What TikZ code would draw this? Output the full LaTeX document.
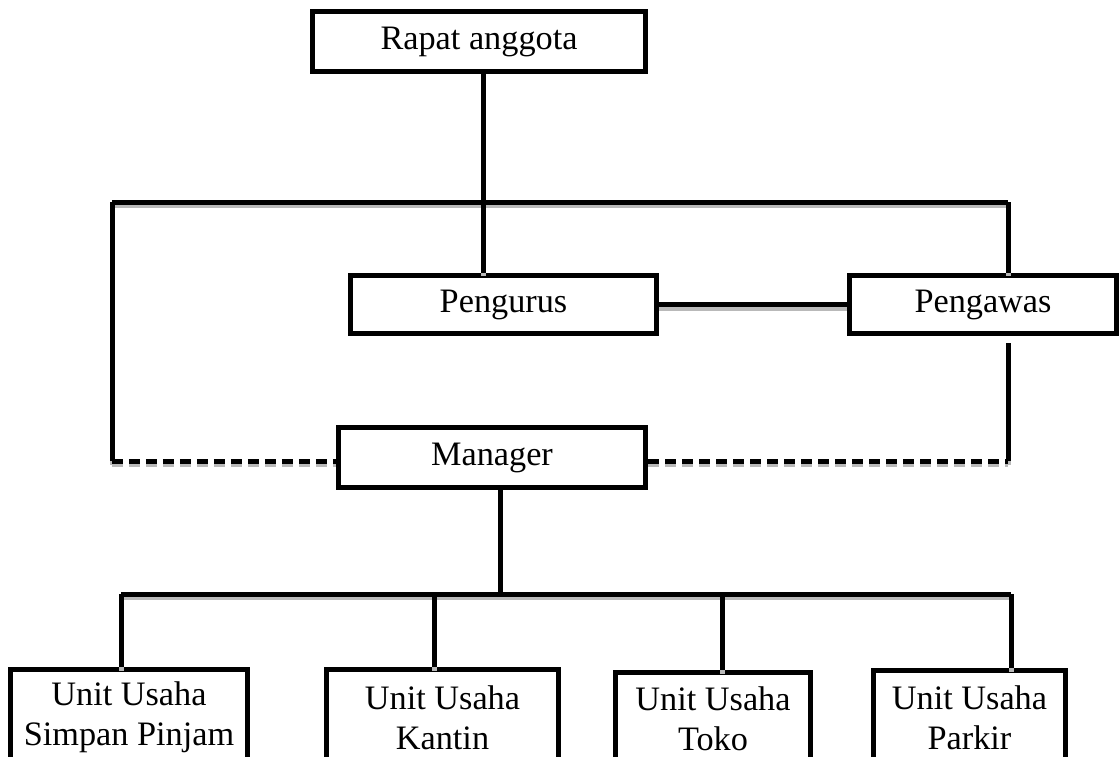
\documentclass[tikz,border=0pt]{standalone}
\usepackage{fontspec}
\setmainfont{Liberation Serif}
\usetikzlibrary{positioning, calc}

% all connectors, drawn twice (shadow, then line)
\newcommand{\orglinks}{%
  \draw[conn] (tl) -- (tr);
  \draw[conn] (rapat.south -| tm) -- (pengurus.north -| tm);
  \draw[conn] (tr) -- (pengawas.north -| tr);
  \draw[conn] (pengurus) -- (pengawas);
  \draw[conn] (tl) -- (dl);
  \draw[conn] (gap) -- (dr);
  \draw[dashconn] (dl) -- (manager.west |- dl);
  \draw[dashconn] (manager.east |- dr) -- (dr);
  \draw[conn] (manager.south -| bm) -- (bm);
  \draw[conn] (b1) -- (b4);
  \draw[conn] (b1) -- (simpan.north -| b1);
  \draw[conn] (b2) -- (kantin.north -| b2);
  \draw[conn] (b3) -- (toko.north -| b3);
  \draw[conn] (b4) -- (parkir.north -| b4);
}

\begin{document}
\begin{tikzpicture}[
  x=0.02cm, y=-0.02cm,
  box/.style={draw, line width=0.1cm, fill=white, inner sep=0pt,
              font=\fontsize{19.5}{22.7}\selectfont, align=center},
  conn/.style={line width=0.1cm},
  dashconn/.style={conn, dash pattern=on 0.22cm off 0.12cm}
]
  \useasboundingbox (0,0) rectangle (1119,757);
  \clip (0,0) rectangle (1119,757);

  % Top
  \node[box, minimum width=6.68cm, minimum height=1.22cm] (rapat) at (479,41.5) {Rapat anggota};

  % Pengurus and Pengawas
  \node[box, minimum width=6.14cm, minimum height=1.18cm] (pengurus) at (503.5,304.5) {Pengurus};
  \node[box, minimum width=5.36cm, minimum height=1.18cm] (pengawas) at (983,304.5) {Pengawas};

  % Manager
  \node[box, minimum width=6.16cm, minimum height=1.22cm] (manager) at (492,457.5) {Manager};

  % Unit usaha
  \node[box, anchor=north, minimum width=4.76cm, minimum height=1.92cm] (simpan) at (129,667) {Unit Usaha\\Simpan Pinjam};
  \node[box, anchor=north, minimum width=4.66cm, minimum height=1.92cm] (kantin) at (442.5,667) {Unit Usaha\\Kantin};
  \node[box, anchor=north, minimum width=3.92cm, minimum height=1.86cm] (toko) at (713,670) {Unit Usaha\\Toko};
  \node[box, anchor=north, minimum width=3.86cm, minimum height=1.90cm] (parkir) at (969.5,668) {Unit Usaha\\Parkir};

  % Junctions
  \coordinate (tl) at (112,202);
  \coordinate (tm) at (483,202);
  \coordinate (tr) at (1008,202);
  \coordinate (dl) at (112,461);
  \coordinate (dr) at (1008,461);
  \coordinate (gap) at (1008,343);
  \coordinate (bm) at (500,594);
  \coordinate (b1) at (121,594);
  \coordinate (b2) at (434,594);
  \coordinate (b3) at (722,594);
  \coordinate (b4) at (1011,594);

  % Shadows
  \begin{scope}[gray!55, transform canvas={yshift=-0.07cm}]
    \orglinks
  \end{scope}

  % Lines
  \orglinks
\end{tikzpicture}
\end{document}
